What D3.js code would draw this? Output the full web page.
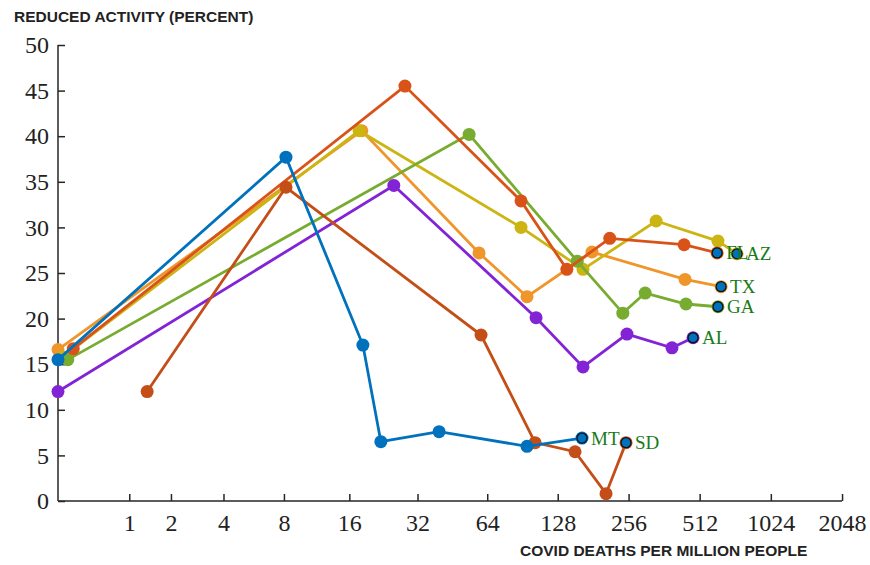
<!DOCTYPE html>
<html>
<head>
<meta charset="utf-8">
<script src="https://cdn.jsdelivr.net/npm/d3@7"></script>
<style>
  body { margin: 0; background: #fff; }
  svg { display: block; }
</style>
</head>
<body>
<div id="chart"></div>
<script>
// deaths per million (x) and reduced activity percent (y)
const states = ['TX', 'AZ', 'GA', 'FL', 'AL', 'SD', 'MT'];
const colors = ['#F0952A', '#CCB512', '#77AC30', '#D95319', '#8224D6', '#C44E17', '#0072BD'];
const deaths = [
	[0, 18.2, 59, 94.7, 179, 444, 631],
	[0.05, 17.7, 89.3, 164, 335, 612, 737],
	[0.1, 53.5, 155, 242, 301, 448, 612],
	[0.16, 28.2, 89.3, 140, 213, 440, 607],
	[0, 25.2, 103.5, 164, 252, 391, 480],
	[1.38, 8.18, 60.2, 102.5, 151.7, 205.4, 249.7],
	[0, 8.18, 18.4, 22.1, 39.7, 94.7, 162.4]
];
const reduced = [
	[16.6, 40.6, 27.2, 22.4, 27.3, 24.3, 23.5],
	[15.8, 40.6, 30.0, 25.4, 30.7, 28.5, 27.1],
	[15.5, 40.2, 26.3, 20.6, 22.8, 21.6, 21.3],
	[16.7, 45.5, 32.9, 25.4, 28.8, 28.1, 27.2],
	[12.0, 34.6, 20.1, 14.7, 18.3, 16.8, 17.9],
	[12.0, 34.4, 18.2, 6.4, 5.4, 0.8, 6.4],
	[15.5, 37.7, 17.1, 6.5, 7.6, 6.0, 6.9]
];
const xTicks = [1, 2, 4, 8, 16, 32, 64, 128, 256, 512, 1024, 2048];
const yTicks = [0, 5, 10, 15, 20, 25, 30, 35, 40, 45, 50];

const width = 870, height = 565;
const margin = { top: 45, right: 28, bottom: 64, left: 58 };

const svg = d3.select('#chart').append('svg')
	.attr('width', width)
	.attr('height', height);

// deaths axis is log(1 + x), which is what symlog with constant 1 gives
const x = d3.scaleSymlog().constant(1).domain([0, 2047]).range([margin.left, width - margin.right]);
const y = d3.scaleLinear().domain([0, 50]).range([height - margin.bottom, margin.top]);

const serif = '"Liberation Serif", "DejaVu Serif", serif';
const sans = '"Liberation Sans", Arial, sans-serif';

const xAxis = svg.append('g')
	.attr('transform', 'translate(0,' + y(0) + ')')
	.call(d3.axisBottom(x).tickValues(xTicks).tickSize(-7).tickPadding(13).tickFormat(d3.format('d')));
xAxis.select('.domain').attr('d', 'M' + x(0) + ',0H' + x(2047));

const yAxis = svg.append('g')
	.attr('transform', 'translate(' + x(0) + ',0)')
	.call(d3.axisLeft(y).tickValues(yTicks).tickSize(-7).tickPadding(9));
yAxis.select('.domain').attr('d', 'M0,' + y(50) + 'V' + y(0));

svg.selectAll('.tick text')
	.style('font-family', serif)
	.style('font-size', '24px')
	.attr('fill', '#222');
svg.selectAll('.domain, .tick line').attr('stroke', '#262626').attr('stroke-width', 1.5);

const line = d3.line().x((d) => x(d[0])).y((d) => y(d[1]));

states.forEach(function (s, i) {
	const pts = deaths[i].map((d, j) => [d, reduced[i][j]]);
	const g = svg.append('g');
	g.append('path')
		.datum(pts)
		.attr('d', line)
		.attr('fill', 'none')
		.attr('stroke', colors[i])
		.attr('stroke-width', 2.8);
	g.selectAll('circle')
		.data(pts)
		.enter()
		.append('circle')
		.attr('cx', (d) => x(d[0]))
		.attr('cy', (d) => y(d[1]))
		.attr('r', 6.5)
		.attr('fill', colors[i]);
});

// last point of each state: blue dot with dark ring and green label
states.forEach(function (s, i) {
	const n = deaths[i].length - 1;
	const cx = x(deaths[i][n]), cy = y(reduced[i][n]);
	svg.append('circle')
		.attr('cx', cx)
		.attr('cy', cy)
		.attr('r', 5)
		.attr('fill', '#0072BD')
		.attr('stroke', '#111')
		.attr('stroke-width', 1.3);
	svg.append('text')
		.attr('x', cx + 9)
		.attr('y', cy + 6.5)
		.style('font-family', serif)
		.style('font-size', '19px')
		.attr('fill', '#187A18')
		.text(s);
});

svg.append('text')
	.attr('x', 14)
	.attr('y', 22)
	.style('font-family', sans)
	.style('font-weight', 'bold')
	.style('font-size', '15.5px')
	.attr('fill', '#222')
	.text('REDUCED ACTIVITY (PERCENT)');

svg.append('text')
	.attr('x', 520)
	.attr('y', 556)
	.style('font-family', sans)
	.style('font-weight', 'bold')
	.style('font-size', '15.5px')
	.attr('fill', '#222')
	.text('COVID DEATHS PER MILLION PEOPLE');
</script>
</body>
</html>
